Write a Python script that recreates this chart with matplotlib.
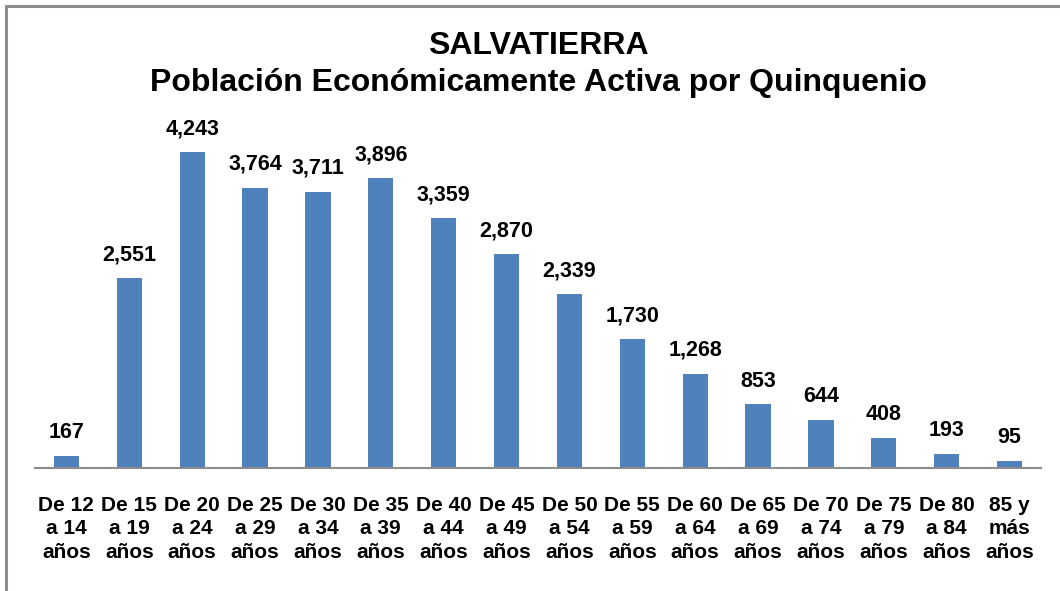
import matplotlib.pyplot as plt
from matplotlib.patches import Rectangle

# Datos
grupos = ['De 12\na 14\naños', 'De 15\na 19\naños', 'De 20\na 24\naños', 'De 25\na 29\naños',
          'De 30\na 34\naños', 'De 35\na 39\naños', 'De 40\na 44\naños', 'De 45\na 49\naños',
          'De 50\na 54\naños', 'De 55\na 59\naños', 'De 60\na 64\naños', 'De 65\na 69\naños',
          'De 70\na 74\naños', 'De 75\na 79\naños', 'De 80\na 84\naños', '85 y\nmás\naños']
poblacion = [167, 2551, 4243, 3764, 3711, 3896, 3359, 2870, 2339, 1730, 1268, 853, 644, 408, 193, 95]

plt.rcParams['font.family'] = ['Liberation Sans', 'DejaVu Sans']

fig = plt.figure(figsize=(10.6, 5.91), dpi=100)
W, H = 1060, 591

# Marco gris del gráfico
fig.patches.append(Rectangle((5.5 / W, -0.1), 1.2, (H - 5.5) / H + 0.1,
                             transform=fig.transFigure, fill=False,
                             edgecolor='#8c8c8c', linewidth=2.2))

ax = fig.add_axes([35 / W, (H - 468) / H, (1041 - 35) / W, (468 - 100) / H])
x = range(len(poblacion))
barras = ax.bar(x, poblacion, width=0.4, color='#4f81bd')

ax.set_xlim(-0.5, len(poblacion) - 0.5)
ax.set_ylim(0, 368 / 0.0745)

for xi, v in zip(x, poblacion):
    ax.text(xi, v + 170, f'{v:,}', ha='center', va='bottom',
            fontsize=15.5, fontweight='bold')

ax.set_xticks(list(x))
ax.set_xticklabels(grupos, fontsize=15, fontweight='bold', linespacing=1.3)
ax.tick_params(axis='x', length=0, pad=20)
ax.set_yticks([])
for s in ['top', 'right', 'left']:
    ax.spines[s].set_visible(False)
ax.spines['bottom'].set_color('#8c8c8c')
ax.spines['bottom'].set_linewidth(1.5)

fig.text(538 / W, 1 - 46 / H, 'SALVATIERRA', ha='center', va='center',
         fontsize=23, fontweight='bold')
fig.text(538 / W, 1 - 83 / H, 'Población Económicamente Activa por Quinquenio',
         ha='center', va='center', fontsize=23, fontweight='bold')

fig.savefig('out.png', dpi=100)
